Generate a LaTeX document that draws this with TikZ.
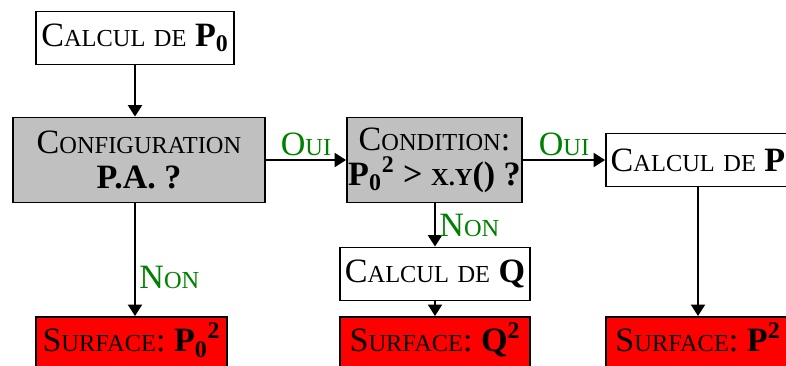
\documentclass[tikz,border=0pt]{standalone}
\usepackage{fontspec}
\setmainfont{Liberation Serif}
\usetikzlibrary{arrows.meta}
\definecolor{boxgray}{HTML}{C0C0C0}
\definecolor{surfred}{HTML}{FF0000}
\definecolor{ouigreen}{HTML}{008000}
% fake small caps, as in the slide
\newcommand{\lc}[1]{{\fontsize{13.9pt}{16pt}\selectfont\MakeUppercase{#1}}}

\begin{document}
\begin{tikzpicture}[>={Triangle[length=6.5pt, width=8pt]}, x=0.02cm, y=-0.02cm,
  font=\fontsize{19.4pt}{20pt}\selectfont,
  box/.style={draw, line width=1.1pt, inner sep=0pt, align=center},
  calc/.style={box, fill=white, minimum height=1.06cm},
  test/.style={box, fill=boxgray, minimum height=1.7cm},
  surf/.style={box, fill=surfred, anchor=north, inner ysep=0.24cm, text height=0.46cm, text depth=0.8cm},
  lab/.style={text=ouigreen, inner sep=2pt},
  arr/.style={->, line width=1.1pt}]
  \useasboundingbox (0,0) rectangle (786,365);
  \clip (0,0) rectangle (786,365);
  % ---------------------------------------------------------------- boxes
  \node[calc, minimum width=3.96cm] (calcP0) at (135,38) {C\lc{alcul} \lc{de} \textbf{P\textsubscript{0}}};
  \node[test, minimum width=5.04cm] (config) at (139,160) {C\lc{onfiguration}\\ \textbf{P.A. ?}};
  \node[test, minimum width=3.5cm] (cond) at (434.5,160)
    {C\lc{ondition}:\\ \textbf{P\textsubscript{0}\textsuperscript{2} > \lc{x.y}() ?}};
  \node[calc, minimum width=3.68cm] (calcP) at (698,160) {C\lc{alcul} \lc{de} \textbf{P}};
  \node[calc, minimum width=3.8cm] (calcQ) at (435,274) {C\lc{alcul} \lc{de} \textbf{Q}};
  \node[surf, minimum width=3.82cm] (surfP0) at (131.5,316) {S\lc{urface}: \textbf{P\textsubscript{0}\textsuperscript{2}}};
  \node[surf, minimum width=3.8cm] (surfQ) at (435,316) {S\lc{urface}: \textbf{Q\textsuperscript{2}}};
  \node[surf, minimum width=3.68cm] (surfP) at (698,316) {S\lc{urface}: \textbf{P\textsuperscript{2}}};
  % ---------------------------------------------------------------- arrows
  \draw[arr] (calcP0.south) -- (config.north -| calcP0.south);
  \draw[arr] (config) -- node[lab, above] {O\lc{ui}} (cond);
  \draw[arr] (cond) -- node[lab, above] {O\lc{ui}} (calcP);
  \draw[arr] (config.south -| calcP0.south) -- node[lab, right, pos=0.66] {N\lc{on}} (surfP0.north -| calcP0.south);
  \draw[arr] (cond.south -| calcQ.north) -- node[lab, right] {N\lc{on}} (calcQ.north);
  \draw[arr] (calcQ.south) -- (surfQ.north);
  \draw[arr] (calcP.south) -- (surfP.north);
\end{tikzpicture}
\end{document}
